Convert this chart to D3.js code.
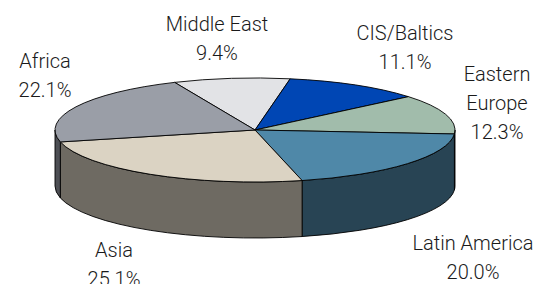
<!DOCTYPE html>
<html>
<head>
<meta charset="utf-8">
<script src="https://cdn.jsdelivr.net/npm/d3@7"></script>
<style>
  body { margin: 0; background: #fff; }
  svg { display: block; }
  .lbl { font-family: Roboto, "Liberation Sans", Arial, sans-serif; font-weight: 300; font-size: 20px; fill: #1a1a1a; }
</style>
</head>
<body>
<div id="chart"></div>
<script>
// slices, clockwise from the Africa / Middle East boundary
const regions = ["Middle East", "CIS/Baltics", "Eastern Europe", "Latin America", "Asia", "Africa"];
const shares = [9.4, 11.1, 12.3, 20.0, 25.1, 22.1];
const labelLines = [["Middle East"], ["CIS/Baltics"], ["Eastern", "Europe"], ["Latin America"], ["Asia"], ["Africa"]];
const topColors = ["#e2e3e6", "#0046b4", "#a1bcab", "#4f88a8", "#dbd3c3", "#9a9ea7"];

const W = 536, H = 284;
const cx = 255, cy = 130, rx = 200, ry = 52, depth = 56;
const startDeg = -23.7;
const lineH = 29;
// label anchor (centre x, first baseline)
const labelAt = {
  "Middle East": [217, 31],
  "CIS/Baltics": [405, 40],
  "Eastern Europe": [497, 81],
  "Latin America": [473, 250],
  "Asia": [114, 257],
  "Africa": [45, 68]
};

const color = d3.scaleOrdinal(regions, topColors);
const sideColor = name => {
  const c = d3.rgb(color(name));
  return d3.rgb(c.r * 0.5, c.g * 0.5, c.b * 0.5).formatHex();
};
const fmt = d3.format(".1f");

const data = regions.map((r, i) => ({ region: r, share: shares[i], lines: labelLines[i] }));

const start = startDeg * Math.PI / 180;
const pie = d3.pie().sort(null).value(d => d.share)
  .startAngle(start).endAngle(start + 2 * Math.PI);
const arcs = pie(data);

const pt = (a, dy = 0) => [cx + rx * Math.sin(a), cy - ry * Math.cos(a) + dy];

const topPath = d => {
  const p0 = pt(d.startAngle), p1 = pt(d.endAngle);
  const large = (d.endAngle - d.startAngle) > Math.PI ? 1 : 0;
  return `M${cx},${cy}L${p0}A${rx},${ry} 0 ${large} 1 ${p1}Z`;
};

const sidePath = d => {
  const s = Math.max(d.startAngle, Math.PI / 2);
  const e = Math.min(d.endAngle, 3 * Math.PI / 2);
  if (e <= s) return null;
  const a = pt(s), b = pt(e), b2 = pt(e, depth), a2 = pt(s, depth);
  return `M${a}A${rx},${ry} 0 0 1 ${b}L${b2}A${rx},${ry} 0 0 0 ${a2}Z`;
};

const svg = d3.select("#chart").append("svg")
  .attr("width", W)
  .attr("height", H);

svg.append("g").selectAll("path")
  .data(arcs.filter(d => sidePath(d)))
  .enter().append("path")
    .attr("d", sidePath)
    .attr("fill", d => sideColor(d.data.region))
    .attr("stroke", "#000")
    .attr("stroke-width", 0.9)
    .attr("stroke-linejoin", "round");

svg.append("g").selectAll("path")
  .data(arcs)
  .enter().append("path")
    .attr("d", topPath)
    .attr("fill", d => color(d.data.region))
    .attr("stroke", "#000")
    .attr("stroke-width", 0.9)
    .attr("stroke-linejoin", "round");

const labels = svg.append("g").selectAll("text")
  .data(arcs)
  .enter().append("text")
    .attr("class", "lbl")
    .attr("text-anchor", "middle")
    .attr("x", d => labelAt[d.data.region][0])
    .attr("y", d => labelAt[d.data.region][1]);

labels.each(function (d) {
  const t = d3.select(this);
  const lines = d.data.lines.concat([fmt(d.data.share) + "%"]);
  lines.forEach((ln, i) => {
    t.append("tspan")
      .attr("x", labelAt[d.data.region][0])
      .attr("dy", i === 0 ? 0 : lineH)
      .text(ln);
  });
});
</script>
</body>
</html>
